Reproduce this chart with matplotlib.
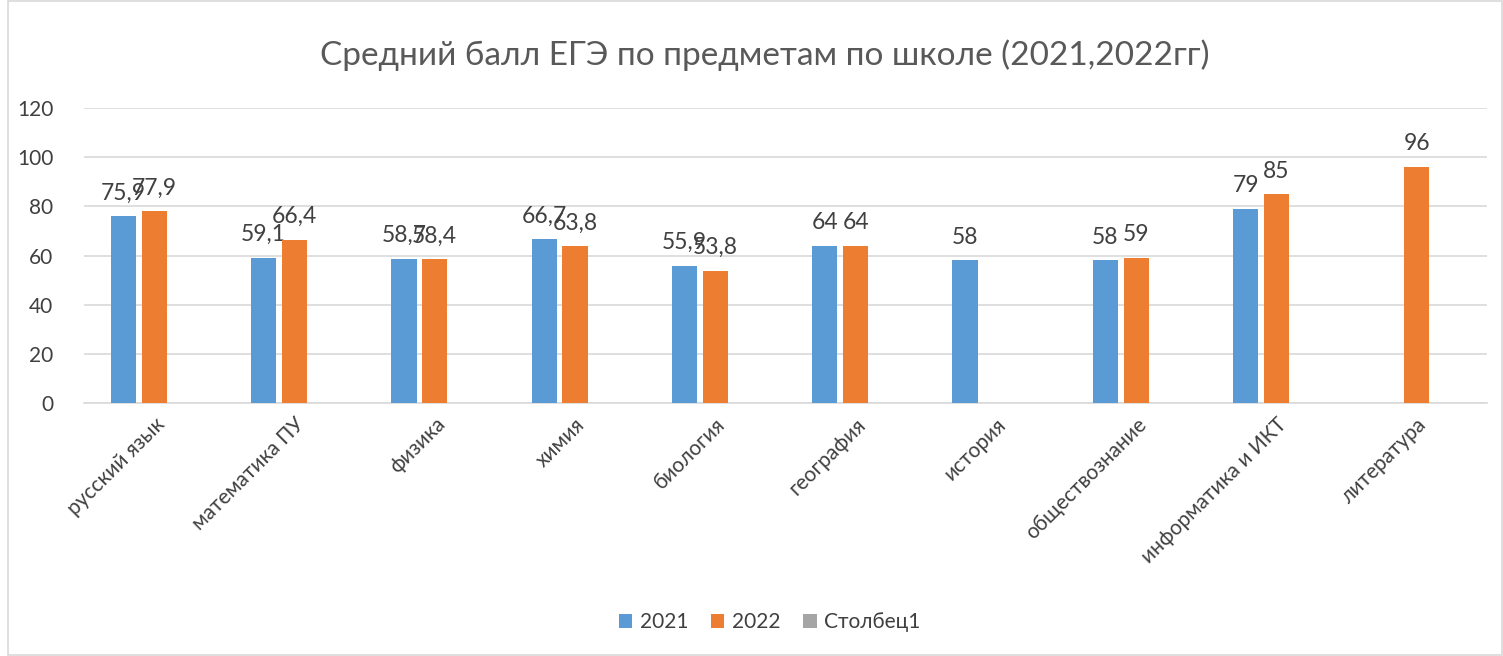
import numpy as np
import matplotlib.pyplot as plt
from matplotlib.patches import Rectangle

plt.rcParams['font.family'] = ['Lato', 'DejaVu Sans']

subjects = ['русский язык', 'математика ПУ', 'физика', 'химия', 'биология',
            'география', 'история', 'обществознание', 'информатика и ИКТ', 'литература']
scores_2021 = [75.9, 59.1, 58.7, 66.7, 55.9, 64, 58, 58, 79, None]
scores_2022 = [77.9, 66.4, 58.4, 63.8, 53.8, 64, None, 59, 85, 96]
scores_col1 = [None] * 10

c_blue = '#5B9BD5'
c_orange = '#ED7D31'
c_gray = '#A5A5A5'
txt = '#404040'
grid_c = '#D9D9D9'

fig = plt.figure(figsize=(15.03, 6.56), dpi=100)
fig.patches.append(Rectangle((8 / 1503, 0.002), 1 - 9 / 1503, 0.996, transform=fig.transFigure,
                             fill=False, edgecolor=grid_c, linewidth=1.2))
ax = fig.add_axes([84 / 1503, 1 - 403 / 656, 1403 / 1503, 295 / 656])

x = np.arange(len(subjects))
w = 0.18
step = 0.22


def draw(vals, offset, color, label):
    xs = [xi + offset for xi, v in zip(x, vals) if v is not None]
    vs = [v for v in vals if v is not None]
    bars = ax.bar(xs, vs, width=w, color=color, label=label, zorder=3)
    for b, v in zip(bars, vs):
        s = ('%g' % v).replace('.', ',')
        ax.annotate(s, (b.get_x() + b.get_width() / 2, v), xytext=(0, 9),
                    textcoords='offset points', ha='center', va='bottom',
                    fontsize=16.5, color=txt)
    return bars


draw(scores_2021, -step, c_blue, '2021')
draw(scores_2022, 0, c_orange, '2022')
ax.bar([0], [0], width=w, color=c_gray, label='Столбец1')

ax.set_xlim(-0.5, len(subjects) - 0.5)
ax.set_ylim(0, 120)
ax.set_yticks(range(0, 121, 20))
ax.yaxis.grid(True, color=grid_c, linewidth=1.2, zorder=0)
for sp in ['top', 'right', 'left']:
    ax.spines[sp].set_visible(False)
ax.spines['bottom'].set_color(grid_c)
ax.spines['bottom'].set_linewidth(1.2)
ax.tick_params(axis='y', length=0, pad=22, labelsize=15, labelcolor=txt)
ax.tick_params(axis='x', length=0, pad=8, labelsize=15, labelcolor=txt)
ax.set_xticks(x)
ax.set_xticklabels(subjects, rotation=45, ha='right', rotation_mode='anchor')

fig.text(0.509, 1 - 55 / 656, 'Средний балл ЕГЭ по предметам по школе (2021,2022гг)',
         ha='center', va='center', fontsize=24, color='#595959')

fig.legend(loc='center', bbox_to_anchor=(0.512, 1 - 622 / 656), ncol=3, frameon=False,
           fontsize=15, labelcolor=txt, handlelength=0.65, handleheight=0.65,
           handletextpad=0.35, columnspacing=1.1)

fig.savefig('out.png', dpi=100)
